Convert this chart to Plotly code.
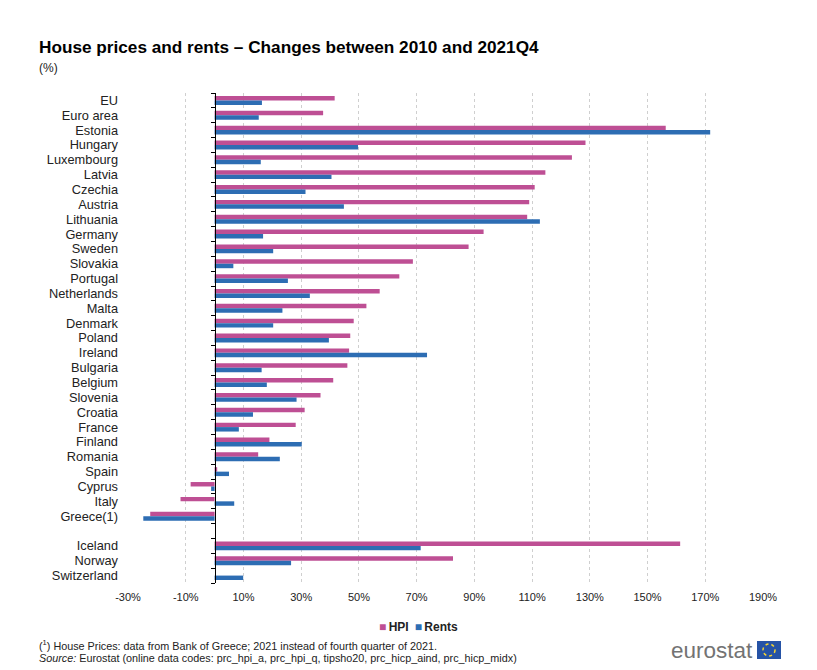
import numpy as np
import plotly.graph_objects as go

# ---------------- data ----------------
categories = ["EU", "Euro area", "Estonia", "Hungary", "Luxembourg", "Latvia", "Czechia",
              "Austria", "Lithuania", "Germany", "Sweden", "Slovakia", "Portugal",
              "Netherlands", "Malta", "Denmark", "Poland", "Ireland", "Bulgaria", "Belgium",
              "Slovenia", "Croatia", "France", "Finland", "Romania", "Spain", "Cyprus",
              "Italy", "Greece(1)", " ", "Iceland", "Norway", "Switzerland"]

hpi = [41.6, 37.6, 156.3, 128.5, 123.8, 114.6, 110.9, 109.0, 108.3, 93.2, 88.0, 68.7, 64.0,
       57.2, 52.6, 48.2, 47.0, 46.6, 46.0, 41.1, 36.7, 31.2, 28.1, 19.0, 15.1, 0.9, -8.3,
       -11.8, -22.3, None, 161.3, 82.6, None]

rents = [16.4, 15.3, 171.7, 49.7, 16.0, 40.5, 31.5, 44.8, 112.7, 16.8, 20.3, 6.5, 25.4,
         33.0, 23.5, 20.3, 39.6, 73.6, 16.3, 18.1, 28.4, 13.3, 8.4, 30.2, 22.6, 5.0, -1.2,
         6.8, -24.7, None, 71.4, 26.5, 9.9]

series_names = ["HPI", "Rents"]

x_ticks = [-30, -10, 10, 30, 50, 70, 90, 110, 130, 150, 170, 190]
x_tick_labels = [f"{v}%" for v in x_ticks]

title = "House prices and rents \u2013 Changes between 2010 and 2021Q4"
subtitle = "(%)"
footnote = "(<sup>1</sup>) House Prices: data from Bank of Greece; 2021 instead of fourth quarter of 2021."
source = ("<i>Source:</i> Eurostat (online data codes: prc_hpi_a, prc_hpi_q, tipsho20, "
          "prc_hicp_aind, prc_hicp_midx)")

# ---------------- layout geometry ----------------
W, H = 817, 670
ML, MR, MT, MB = 128, 54, 93, 87
PW, PH = W - ML - MR, H - MT - MB
XMIN, XMAX = -30, 190


def px(x):
    return (x - ML) / PW


def py(y):
    return (H - MB - y) / PH


FONT = "Liberation Sans, Arial, sans-serif"
PINK = "#BE4F94"
BLUE = "#2D6DB3"
colors = [PINK, BLUE]

fig = go.Figure()
for name, vals, col in zip(series_names, [hpi, rents], colors):
    fig.add_trace(go.Bar(name=name, y=categories, x=vals, orientation="h",
                         marker=dict(color=col, line=dict(width=0)), showlegend=False))
# helper trace carrying the zero-line axis with its boundary ticks
fig.add_trace(go.Scatter(x=[None], y=[None], yaxis="y2", showlegend=False,
                         hoverinfo="skip"))

n = len(categories)
boundaries = list(np.arange(n + 1) - 0.5)

fig.update_layout(
    width=W, height=H,
    margin=dict(l=ML, r=MR, t=MT, b=MB, autoexpand=False),
    paper_bgcolor="white", plot_bgcolor="white",
    font=dict(family=FONT, color="#222222"),
    barmode="group", bargap=0.4, bargroupgap=0.0,
    xaxis=dict(range=[XMIN, XMAX], tickvals=x_ticks, ticktext=x_tick_labels,
               showgrid=True, gridcolor="#cfcfcf", griddash="dot", gridwidth=1,
               zeroline=False, showline=False, ticks="outside", ticklen=4,
               tickcolor="rgba(0,0,0,0)", tickfont=dict(size=11, color="#222222"),
               automargin=False),
    yaxis=dict(type="category", categoryorder="array", categoryarray=categories,
               range=[n - 0.5, -0.5], tickmode="linear", tick0=0, dtick=1,
               showgrid=False, showline=False, ticks="",
               ticklabelstandoff=9, tickfont=dict(size=12.8, color="#222222"),
               automargin=False),
    yaxis2=dict(overlaying="y", anchor="free", position=(0 - XMIN) / (XMAX - XMIN),
                side="left", range=[n - 0.5, -0.5], tickmode="array",
                tickvals=boundaries, showticklabels=False, ticks="outside", ticklen=4,
                tickcolor="black", showline=True, linecolor="black", linewidth=1,
                showgrid=False, zeroline=False, automargin=False),
    showlegend=False,
)

legend_text = (f"<span style='color:{PINK}'>\u25A0</span>\u2009<b>{series_names[0]}</b>\u2002"
               f"<span style='color:{BLUE}'>\u25A0</span>\u2009<b>{series_names[1]}</b>")

ann = [
    dict(text=f"<b>{title}</b>", x=px(37), y=py(47), xanchor="left", yanchor="middle",
         font=dict(size=17.2, color="#000000")),
    dict(text=subtitle, x=px(37), y=py(68), xanchor="left", yanchor="middle",
         font=dict(size=12, color="#222222")),
    dict(text=legend_text, x=px(418), y=py(627), xanchor="center", yanchor="middle",
         font=dict(size=12, color="#222222")),
    dict(text=footnote, x=px(37), y=py(645), xanchor="left", yanchor="middle",
         font=dict(size=10.8, color="#222222")),
    dict(text=source, x=px(37), y=py(658), xanchor="left", yanchor="middle",
         font=dict(size=10.8, color="#222222")),
    dict(text="eurostat", x=px(755), y=py(650), xanchor="right", yanchor="middle",
         font=dict(size=22.5, color="#737373")),
]
for a in ann:
    a.update(xref="paper", yref="paper", showarrow=False, align="left")
fig.update_layout(annotations=ann)

# eurostat logo flag
fig.add_shape(type="rect", xref="paper", yref="paper", x0=px(757), x1=px(781),
              y0=py(659), y1=py(641), fillcolor="#2553a6", line=dict(width=0))
fig.add_shape(type="circle", xref="paper", yref="paper", x0=px(763), x1=px(775),
              y0=py(656), y1=py(644), line=dict(color="#f5d533", width=1.5, dash="dot"))

fig.write_html("out.html", config={"displayModeBar": False},
               post_script="document.body.style.margin='0';")
